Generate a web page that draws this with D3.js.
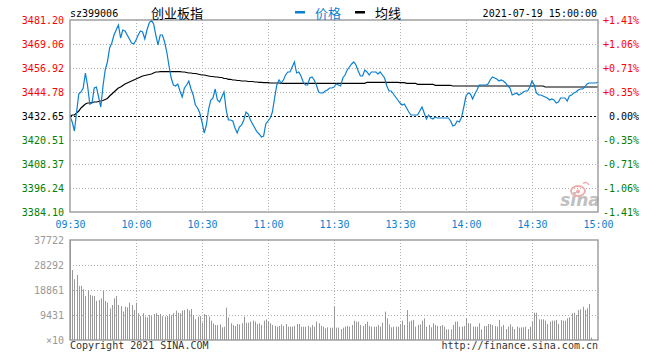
<!DOCTYPE html>
<html><head><meta charset="utf-8">
<script src="https://cdn.jsdelivr.net/npm/d3@7"></script>
<style>
body{margin:0;background:#fff}
svg{display:block}
text{font-family:"DejaVu Sans Mono",monospace;font-size:10px}
.cjk{font-family:"Noto Sans CJK SC",sans-serif;font-size:13px}
</style></head><body>
<svg id="c" width="660" height="360"></svg>
<script>
// ---------------- data ----------------
const code = "sz399006";
const title = "创业板指";
const dateLabel = "2021-07-19 15:00:00";
const legendNames = ["价格", "均线"];
const prevClose = 3432.65;
const priceTicks = [3481.20, 3469.06, 3456.92, 3444.78, 3432.65, 3420.51, 3408.37, 3396.24, 3384.10];
const pctLabels = ["+1.41%", "+1.06%", "+0.71%", "+0.35%", "0.00%", "-0.35%", "-0.71%", "-1.06%", "-1.41%"];
const timeTickIdx = [0, 30, 60, 90, 120, 150, 180, 210, 240];
const timeLabels = ["09:30", "10:00", "10:30", "11:00", "11:30", "13:30", "14:00", "14:30", "15:00"];
const volTicks = [37722, 28292, 18861, 9431, 0];
const volTickLabels = ["37722", "28292", "18861", "9431", "×10"];

const prices = [
3432.65,3429.62,3425.06,3434.67,3443.78,3444.79,3446.81,3454.40,3447.82,3438.72,
3439.22,3446.81,3447.32,3442.26,3437.20,3447.82,3455.91,3459.96,3467.04,3469.57,
3473.61,3476.14,3478.67,3472.10,3476.14,3475.64,3473.61,3471.59,3469.57,3469.06,
3471.09,3473.61,3475.64,3475.13,3471.59,3476.14,3479.68,3481.20,3479.18,3473.61,
3468.56,3473.61,3473.61,3470.07,3465.02,3457.94,3451.87,3448.33,3447.82,3448.83,
3445.29,3442.26,3446.81,3448.33,3450.35,3446.30,3443.27,3438.21,3436.70,3434.17,
3429.62,3424.05,3428.10,3436.19,3440.74,3441.75,3446.30,3440.74,3439.73,3442.26,
3444.79,3435.68,3430.63,3430.63,3430.12,3426.58,3424.05,3427.09,3428.10,3430.63,
3434.67,3433.66,3430.63,3428.60,3426.58,3424.56,3423.55,3422.03,3422.54,3428.60,
3430.12,3431.64,3434.67,3441.75,3448.33,3450.86,3449.34,3450.86,3453.38,3454.90,
3454.90,3457.43,3459.96,3454.40,3454.90,3452.88,3449.84,3448.33,3448.33,3451.87,
3452.37,3450.86,3448.33,3444.79,3444.28,3444.28,3445.29,3445.80,3446.81,3446.81,
3447.32,3448.83,3448.33,3447.82,3451.87,3453.38,3455.91,3457.43,3458.95,3459.96,
3458.44,3455.41,3452.88,3452.88,3455.91,3454.90,3453.38,3454.90,3454.90,3454.90,
3453.89,3454.90,3453.38,3451.87,3447.82,3445.29,3445.29,3443.78,3442.26,3440.74,
3439.22,3438.21,3438.72,3436.70,3434.67,3433.16,3433.16,3433.16,3433.16,3435.18,
3437.20,3434.17,3431.13,3433.16,3431.64,3431.13,3432.14,3431.64,3431.64,3431.64,
3431.64,3431.64,3431.64,3430.12,3427.59,3428.10,3430.12,3429.62,3432.14,3437.20,
3442.76,3444.28,3443.78,3441.25,3443.78,3445.80,3448.33,3448.33,3448.33,3448.33,
3448.83,3450.86,3452.37,3451.87,3451.36,3450.35,3450.86,3450.35,3449.34,3447.82,
3446.81,3443.27,3443.78,3444.28,3443.27,3443.78,3444.79,3445.29,3445.29,3447.32,
3450.35,3448.33,3444.28,3443.27,3443.27,3442.76,3442.26,3441.75,3440.74,3441.25,
3440.74,3439.22,3439.73,3441.75,3441.75,3441.75,3440.24,3442.76,3443.27,3444.28,
3444.79,3445.80,3446.30,3446.30,3447.32,3448.83,3449.34,3449.34,3449.34,3449.34,
3449.84
];

const avgPrices = [
3432.65,3433.16,3433.16,3434.17,3435.18,3436.70,3437.71,3438.72,3439.22,3439.22,
3439.48,3439.73,3439.73,3439.98,3440.24,3440.49,3441.00,3441.50,3442.76,3443.78,
3444.79,3445.80,3446.81,3447.32,3448.07,3448.83,3449.34,3449.84,3450.35,3450.86,
3451.36,3451.87,3452.37,3452.88,3453.13,3453.38,3453.64,3453.89,3454.40,3454.90,
3454.90,3455.05,3455.05,3455.05,3455.05,3455.05,3455.05,3455.05,3455.05,3455.05,
3455.05,3454.90,3454.90,3454.65,3454.40,3454.40,3454.14,3454.14,3453.89,3453.64,
3453.38,3453.38,3453.13,3452.88,3452.63,3452.63,3452.37,3452.37,3452.12,3452.12,
3451.62,3451.62,3451.21,3451.21,3450.86,3450.86,3450.60,3450.60,3450.35,3450.35,
3450.35,3450.10,3450.10,3450.10,3449.84,3449.84,3449.69,3449.69,3449.49,3449.49,
3449.49,3449.34,3449.34,3449.34,3449.34,3449.34,3449.19,3449.19,3449.19,3449.19,
3449.19,3449.19,3449.19,3449.19,3449.19,3449.19,3449.19,3449.19,3449.19,3449.19,
3449.19,3449.19,3449.19,3449.19,3449.19,3449.19,3449.19,3449.19,3449.19,3449.19,
3449.19,3449.19,3449.19,3449.19,3449.19,3449.19,3449.19,3449.19,3449.19,3449.19,
3449.19,3449.19,3449.19,3449.19,3449.19,3449.69,3449.69,3449.69,3449.69,3449.69,
3449.69,3449.69,3449.69,3449.69,3449.69,3449.69,3449.69,3449.69,3449.69,3449.69,
3449.49,3449.49,3449.49,3449.19,3449.19,3449.19,3449.19,3449.19,3448.68,3448.68,
3448.68,3448.68,3448.68,3448.68,3448.68,3448.68,3448.18,3448.18,3448.18,3448.18,
3448.18,3448.18,3448.18,3448.18,3447.82,3447.82,3447.82,3447.82,3447.82,3447.82,
3447.82,3447.82,3447.82,3447.82,3447.82,3447.82,3447.82,3447.82,3447.82,3447.82,
3447.82,3447.82,3447.82,3447.82,3447.82,3447.82,3447.82,3447.82,3447.82,3447.82,
3447.82,3447.82,3447.82,3447.82,3447.82,3447.82,3447.82,3447.82,3447.82,3447.82,
3447.82,3447.82,3447.82,3447.82,3447.82,3447.82,3447.32,3447.32,3447.32,3447.32,
3447.32,3447.32,3447.32,3447.32,3447.32,3447.32,3447.32,3447.32,3447.32,3447.32,
3447.32,3447.32,3447.32,3447.32,3447.32,3447.32,3447.32,3447.32,3447.32,3447.32,
3447.32
];

const volumes = [
37722,
26400,22900,24500,20400,20400,19100,16600,18600,17000,16700,
16600,14800,15100,15700,18600,14700,14100,11900,13200,15700,
16600,13200,12800,10700,12600,12300,14100,13200,11300,14100,
10100,9050,10100,8800,8550,9430,9050,9800,10100,9430,
9800,9050,8800,9050,9800,9300,10100,11100,10300,10100,
11100,11300,11700,11100,11700,9430,7800,8800,9050,6500,
9800,9430,8800,7300,6300,5660,5660,5900,4780,5030,
12200,8420,6300,5660,5280,6040,5900,6300,8800,6540,
6540,6920,7300,6920,6040,6300,5660,7300,7800,6920,
6300,5660,5280,5030,5280,5900,5280,6040,5030,5030,
5030,5280,6040,6040,5030,5030,5030,5280,4780,5660,
5030,6920,6300,5280,5030,4400,4780,4650,4650,
12600,
4650,4650,4150,4650,5030,5280,5030,5660,7300,6920,
6920,5660,5280,6040,6920,5280,5030,5030,5030,5660,
5030,6540,10700,8170,5900,4780,5030,5030,5030,5900,
7300,5660,11300,6920,7300,7540,5030,5660,5900,7300,
8170,5030,5660,4780,6290,5660,5280,5280,5660,5030,
4020,4020,4020,5660,6920,6920,5030,5030,5280,8170,
6290,6290,5030,5030,5030,6290,4020,5280,5280,6040,
6040,5660,5280,5030,7540,5030,5660,4150,5030,5900,
5030,4150,5030,4650,4780,4780,5030,4150,5030,6920,
10300,10300,7800,7800,7800,7300,6040,6920,7300,7300,
7540,6040,7540,7300,7300,8170,8550,10060,10300,9430,
11300,11570,12570,11300,11950,13580,900,
0,0,0
];

// ---------------- layout ----------------
const L = 70, R = 598, T = 20, B = 212, VT = 240, VB = 340;
const BLUE = "#0b7fd0", RED = "#ff0000", GREEN = "#008000", GRID = "#b0b0b0", FRAME = "#999";

const svg = d3.select("#c");
const x = d3.scaleLinear().domain([0, 240]).range([L, R]);
const y = d3.scaleLinear().domain([priceTicks[priceTicks.length - 1], priceTicks[0]]).range([B, T]);
const yv = d3.scaleLinear().domain([0, volTicks[0]]).range([VB, VT]);

// grids (price panel)
const gGrid = svg.append("g");
gGrid.selectAll("line.h").data(priceTicks.filter((d, i) => i > 0 && i < priceTicks.length - 1 && d !== prevClose))
  .join("line").attr("x1", L).attr("x2", R)
  .attr("y1", d => Math.round(y(d)) + 0.5).attr("y2", d => Math.round(y(d)) + 0.5)
  .attr("stroke", GRID).attr("stroke-dasharray", "1,2");
gGrid.selectAll("line.v").data(timeTickIdx.slice(1, -1))
  .join("line").attr("x1", d => Math.round(x(d)) + 0.5).attr("x2", d => Math.round(x(d)) + 0.5)
  .attr("y1", T).attr("y2", B)
  .attr("stroke", GRID).attr("stroke-dasharray", "1,2");

// grids (volume panel)
const gv = svg.append("g");
gv.selectAll("line.h").data(volTicks.slice(1, -1))
  .join("line").attr("x1", L).attr("x2", R)
  .attr("y1", d => Math.round(yv(d)) + 0.5).attr("y2", d => Math.round(yv(d)) + 0.5)
  .attr("stroke", GRID).attr("stroke-dasharray", "1,2");
gv.selectAll("line.v").data(timeTickIdx.slice(1, -1))
  .join("line").attr("x1", d => Math.round(x(d)) + 0.5).attr("x2", d => Math.round(x(d)) + 0.5)
  .attr("y1", VT).attr("y2", VB)
  .attr("stroke", GRID).attr("stroke-dasharray", "1,2");

// volume bars
svg.append("g").selectAll("rect").data(volumes).join("rect")
  .attr("x", (d, i) => Math.round(x(i)))
  .attr("width", 1)
  .attr("y", d => yv(d))
  .attr("height", d => VB - yv(d))
  .attr("fill", "#999");

// prev close line
svg.append("line").attr("x1", L).attr("x2", R)
  .attr("y1", Math.round(y(prevClose)) + 0.5).attr("y2", Math.round(y(prevClose)) + 0.5)
  .attr("stroke", "#000").attr("stroke-dasharray", "2,2");

// watermark
const wm = svg.append("g");
wm.append("ellipse").attr("cx", 578).attr("cy", 191).attr("rx", 7).attr("ry", 5)
  .attr("fill", "none").attr("stroke", "#f3a9a9").attr("stroke-width", 1.8);
wm.append("circle").attr("cx", 578).attr("cy", 191.5).attr("r", 2).attr("fill", "#f3a9a9");
wm.append("path").attr("d", "M583 183.5 q3.5 -2.5 6 1.5").attr("fill", "none").attr("stroke", "#f3a9a9").attr("stroke-width", 1.4);
wm.append("text").attr("x", 580).attr("y", 206).attr("text-anchor", "middle")
  .style("font-family", "DejaVu Sans").style("font-size", "17px").style("font-style", "italic").style("font-weight", "bold")
  .attr("fill", "#c0c0c0").text("sina");

// lines
const line = d3.line().x((d, i) => x(i)).y(d => y(d));
svg.append("path").datum(avgPrices).attr("d", line).attr("fill", "none").attr("stroke", "#000").attr("stroke-width", 1.2);
svg.append("path").datum(prices).attr("d", line).attr("fill", "none").attr("stroke", BLUE).attr("stroke-width", 1.2);

// frames
svg.append("rect").attr("x", L).attr("y", T).attr("width", R - L).attr("height", B - T)
  .attr("fill", "none").attr("stroke", FRAME).attr("stroke-width", 1.4);
svg.append("rect").attr("x", L).attr("y", VT).attr("width", R - L).attr("height", VB - VT)
  .attr("fill", "none").attr("stroke", FRAME).attr("stroke-width", 1.4);

// axes
const colorFor = d => d > prevClose ? RED : (d < prevClose ? GREEN : "#000");
const ax1 = svg.append("g").attr("transform", `translate(${L},0)`)
  .call(d3.axisLeft(y).tickValues(priceTicks).tickFormat(d => d.toFixed(2)).tickSize(0).tickPadding(6));
ax1.select(".domain").remove();
ax1.selectAll("text").attr("fill", d => colorFor(d)).style("font-family", "DejaVu Sans Mono").style("font-size", "10px");

const ax2 = svg.append("g").attr("transform", `translate(${R},0)`)
  .call(d3.axisRight(y).tickValues(priceTicks).tickFormat((d, i) => pctLabels[i]).tickSize(0).tickPadding(5));
ax2.select(".domain").remove();
ax2.selectAll("text").attr("fill", d => colorFor(d)).attr("x", d => d === prevClose ? 11 : 5)
  .style("font-family", "DejaVu Sans Mono").style("font-size", "10px");

const ax3 = svg.append("g").attr("transform", `translate(0,${B})`)
  .call(d3.axisBottom(x).tickValues(timeTickIdx).tickFormat((d, i) => timeLabels[i]).tickSize(0).tickPadding(8.5));
ax3.select(".domain").remove();
ax3.selectAll("text").attr("fill", BLUE).style("font-family", "DejaVu Sans Mono").style("font-size", "10px");

const ax4 = svg.append("g").attr("transform", `translate(${L},0)`)
  .call(d3.axisLeft(yv).tickValues(volTicks).tickFormat((d, i) => volTickLabels[i]).tickSize(0).tickPadding(6));
ax4.select(".domain").remove();
ax4.selectAll("text").attr("fill", "#999").style("font-family", "DejaVu Sans Mono").style("font-size", "10px");

// header
svg.append("text").attr("x", 70).attr("y", 16.5).attr("fill", "#000").text(code);
svg.append("text").attr("class", "cjk").attr("x", 151).attr("y", 17.5).attr("fill", "#000").text(title);
svg.append("rect").attr("x", 295).attr("y", 11).attr("width", 10).attr("height", 2.5).attr("fill", BLUE);
svg.append("text").attr("class", "cjk").attr("x", 315).attr("y", 17.5).attr("fill", BLUE).text(legendNames[0]);
svg.append("rect").attr("x", 355).attr("y", 11).attr("width", 10).attr("height", 2.5).attr("fill", "#000");
svg.append("text").attr("class", "cjk").attr("x", 375).attr("y", 17.5).attr("fill", "#000").text(legendNames[1]);
svg.append("text").attr("x", 597).attr("y", 16.5).attr("text-anchor", "end").attr("fill", "#000").text(dateLabel);

// footer
svg.append("text").attr("x", 70).attr("y", 349).attr("fill", "#333").text("Copyright 2021 SINA.COM");
svg.append("text").attr("x", 598).attr("y", 349).attr("text-anchor", "end").attr("fill", "#333").text("http://finance.sina.com.cn");
</script>
</body></html>
